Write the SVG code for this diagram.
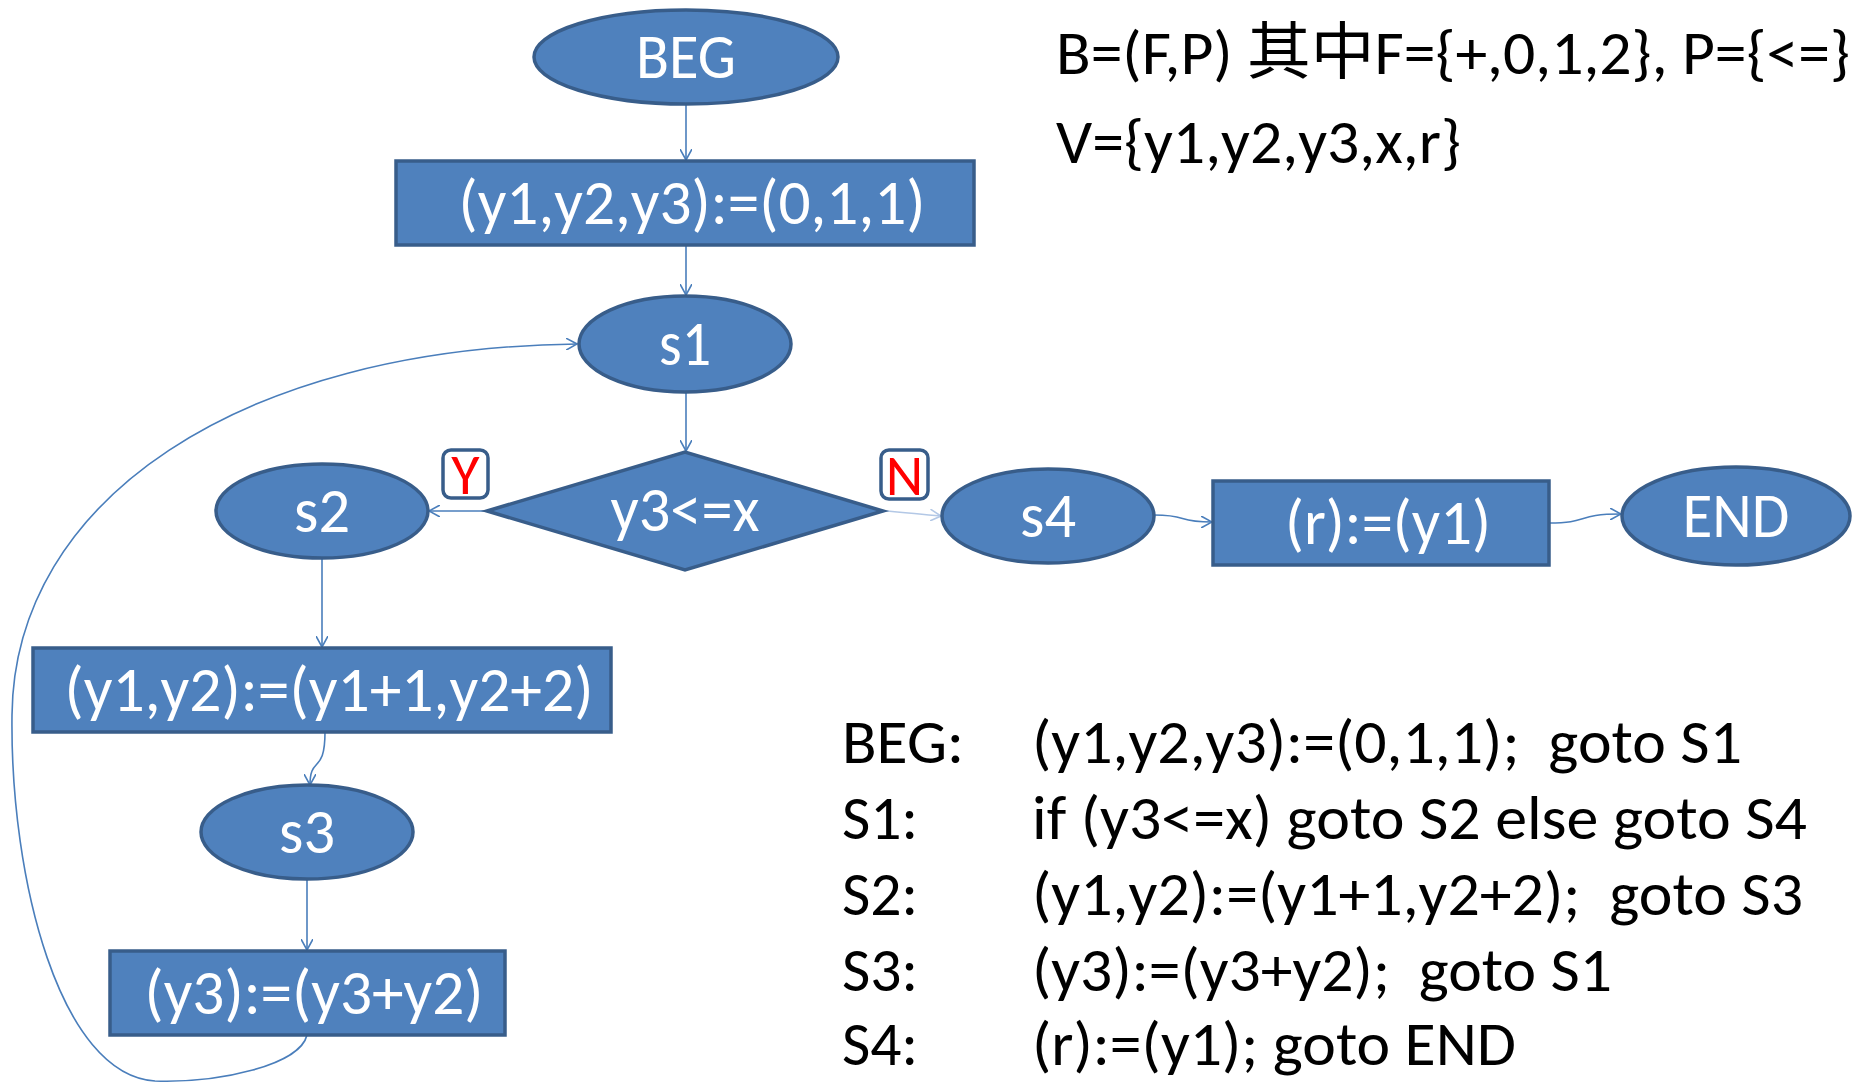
<svg xmlns="http://www.w3.org/2000/svg" width="1854" height="1083" viewBox="0 0 1854 1083">
<defs>
<style>
.shape{fill:#4F81BD;stroke:#385D8A;stroke-width:3.5}
.nt{fill:#FFFFFF;font-family:Carlito,Lato,"Liberation Sans",sans-serif;font-size:63px;text-anchor:middle}
.bt{fill:#000000;font-family:Carlito,Lato,"Liberation Sans","Noto Sans CJK SC",sans-serif;font-size:62px;white-space:pre}
.conn{fill:none;stroke:#4A7EBB;stroke-width:1.6}
.lbl{fill:#FFFFFF;stroke:#385D8A;stroke-width:3.5}
.lt{fill:#FF0000;font-family:Carlito,Lato,"Liberation Sans",sans-serif;font-size:58px;text-anchor:middle}
</style>
<marker id="arr" viewBox="0 0 12 12" refX="11" refY="6" markerWidth="12" markerHeight="12" markerUnits="userSpaceOnUse" orient="auto">
<path d="M0,0 L11,6 L0,12" fill="none" stroke="#4A7EBB" stroke-width="1.6"/>
</marker>
<marker id="arrL" viewBox="0 0 12 12" refX="11" refY="6" markerWidth="12" markerHeight="12" markerUnits="userSpaceOnUse" orient="auto">
<path d="M0,0 L11,6 L0,12" fill="none" stroke="#B3C8E6" stroke-width="1.6"/>
</marker>
</defs>
<rect width="1854" height="1083" fill="#FFFFFF"/>

<g id="connectors">
<path class="conn" d="M686,104 L686,160" marker-end="url(#arr)"/>
<path class="conn" d="M686,245 L686,295" marker-end="url(#arr)"/>
<path class="conn" d="M686,392 L686,451" marker-end="url(#arr)"/>
<path class="conn" d="M487,511 L429,511" marker-end="url(#arr)"/>
<path d="M883,511 C905,512 915,514 941,516" fill="none" stroke="#B3C8E6" stroke-width="1.6" marker-end="url(#arrL)"/>
<path class="conn" d="M1154,515 C1190,515 1175,522 1212,522" marker-end="url(#arr)"/>
<path class="conn" d="M1549,523 C1590,523 1575,514 1621,514" marker-end="url(#arr)"/>
<path class="conn" d="M322,558 L322,647" marker-end="url(#arr)"/>
<path class="conn" d="M325,732 C325,775 310,755 310,785" marker-end="url(#arr)"/>
<path class="conn" d="M307,879 L307,950" marker-end="url(#arr)"/>
<path class="conn" d="M307,1035 C300,1065 220,1083 155,1081 C60,1075 10,880 12,715 C14,500 240,348 577,344" marker-end="url(#arr)"/>
</g>

<g id="node-beg">
<ellipse class="shape" cx="686" cy="57" rx="152" ry="47"/>
<text class="nt" x="686" y="78" textLength="100" lengthAdjust="spacingAndGlyphs">BEG</text>
</g>
<g id="node-init">
<rect class="shape" x="396" y="161" width="578" height="84"/>
<text class="nt" x="692" y="224" textLength="467" lengthAdjust="spacingAndGlyphs">(y1,y2,y3):=(0,1,1)</text>
</g>
<g id="node-s1">
<ellipse class="shape" cx="685" cy="344" rx="106" ry="48"/>
<text class="nt" x="685" y="365" textLength="52" lengthAdjust="spacingAndGlyphs">s1</text>
</g>
<g id="node-cond">
<polygon class="shape" points="487,511 685,452 883,511 685,570"/>
<text class="nt" x="685" y="531" textLength="149" lengthAdjust="spacingAndGlyphs">y3&lt;=x</text>
</g>
<g id="label-y">
<rect class="lbl" x="443" y="450" width="45" height="48" rx="8"/>
<text class="lt" x="465.5" y="494">Y</text>
</g>
<g id="label-n">
<rect class="lbl" x="881" y="450" width="47" height="49" rx="8"/>
<text class="lt" x="904.5" y="495">N</text>
</g>
<g id="node-s2">
<ellipse class="shape" cx="322" cy="511" rx="106" ry="47"/>
<text class="nt" x="322" y="532" textLength="56" lengthAdjust="spacingAndGlyphs">s2</text>
</g>
<g id="node-s4">
<ellipse class="shape" cx="1048" cy="516" rx="106" ry="47"/>
<text class="nt" x="1048" y="537" textLength="56" lengthAdjust="spacingAndGlyphs">s4</text>
</g>
<g id="node-ret">
<rect class="shape" x="1213" y="481" width="336" height="84"/>
<text class="nt" x="1388" y="544" textLength="206" lengthAdjust="spacingAndGlyphs">(r):=(y1)</text>
</g>
<g id="node-end">
<ellipse class="shape" cx="1736" cy="516" rx="114" ry="49"/>
<text class="nt" x="1736" y="537" textLength="107" lengthAdjust="spacingAndGlyphs">END</text>
</g>
<g id="node-inc">
<rect class="shape" x="33" y="648" width="578" height="84"/>
<text class="nt" x="329" y="711" textLength="529" lengthAdjust="spacingAndGlyphs">(y1,y2):=(y1+1,y2+2)</text>
</g>
<g id="node-s3">
<ellipse class="shape" cx="307" cy="832" rx="106" ry="47"/>
<text class="nt" x="307" y="853" textLength="56" lengthAdjust="spacingAndGlyphs">s3</text>
</g>
<g id="node-upd">
<rect class="shape" x="110" y="951" width="395" height="84"/>
<text class="nt" x="314" y="1014" textLength="339" lengthAdjust="spacingAndGlyphs">(y3):=(y3+y2)</text>
</g>

<g id="notes">
<text class="bt" x="1056" y="74" textLength="794" lengthAdjust="spacingAndGlyphs">B=(F,P) 其中F={+,0,1,2}, P={&lt;=}</text>
<text class="bt" x="1056" y="163" textLength="405" lengthAdjust="spacingAndGlyphs">V={y1,y2,y3,x,r}</text>
</g>
<g id="program">
<text class="bt" x="842" y="763" textLength="122" lengthAdjust="spacingAndGlyphs">BEG:</text>
<text class="bt" x="1032" y="763" textLength="710" lengthAdjust="spacingAndGlyphs" xml:space="preserve">(y1,y2,y3):=(0,1,1);  goto S1</text>
<text class="bt" x="842" y="839" textLength="76" lengthAdjust="spacingAndGlyphs">S1:</text>
<text class="bt" x="1032" y="839" textLength="775" lengthAdjust="spacingAndGlyphs">if (y3&lt;=x) goto S2 else goto S4</text>
<text class="bt" x="842" y="915" textLength="76" lengthAdjust="spacingAndGlyphs">S2:</text>
<text class="bt" x="1032" y="915" textLength="771" lengthAdjust="spacingAndGlyphs" xml:space="preserve">(y1,y2):=(y1+1,y2+2);  goto S3</text>
<text class="bt" x="842" y="991" textLength="76" lengthAdjust="spacingAndGlyphs">S3:</text>
<text class="bt" x="1032" y="991" textLength="580" lengthAdjust="spacingAndGlyphs" xml:space="preserve">(y3):=(y3+y2);  goto S1</text>
<text class="bt" x="842" y="1065" textLength="76" lengthAdjust="spacingAndGlyphs">S4:</text>
<text class="bt" x="1032" y="1065" textLength="484" lengthAdjust="spacingAndGlyphs">(r):=(y1); goto END</text>
</g>
</svg>
